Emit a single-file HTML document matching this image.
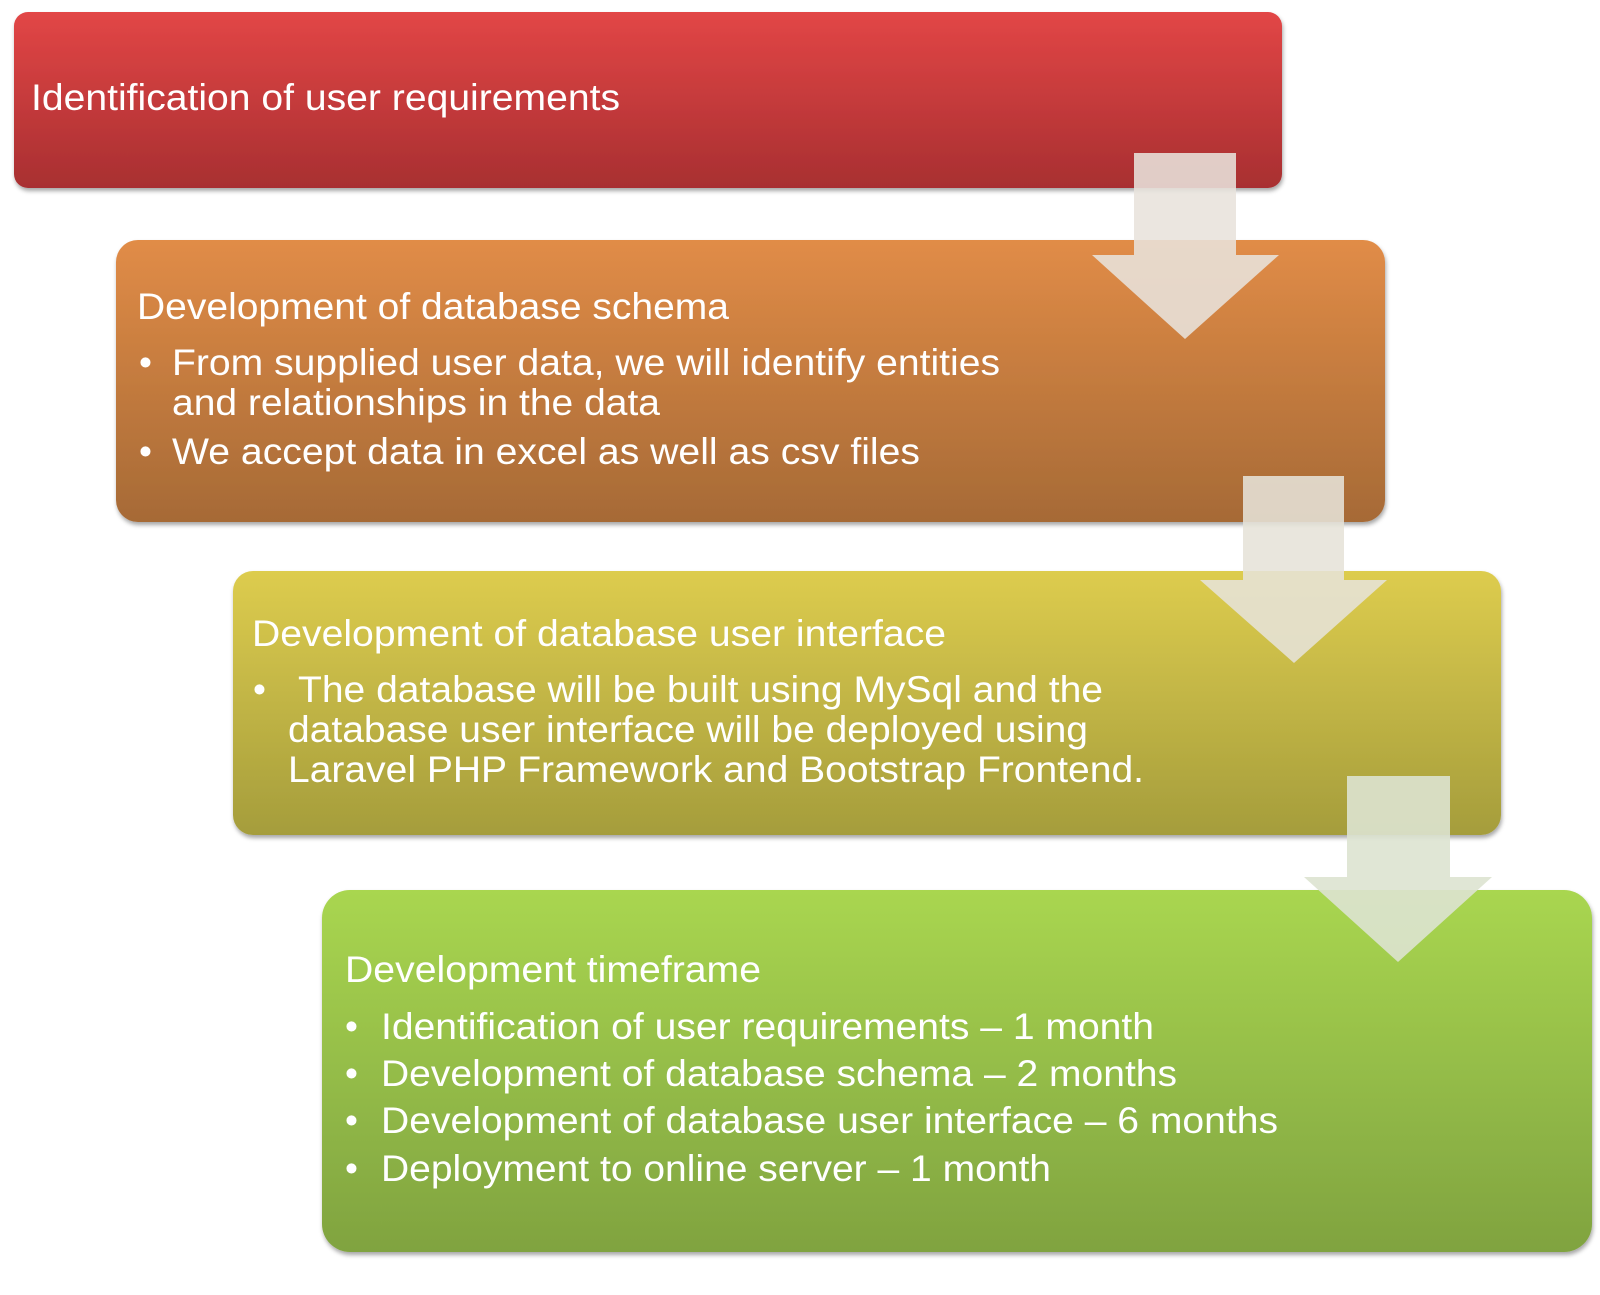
<!DOCTYPE html>
<html><head><meta charset="utf-8"><style>
html,body{margin:0;padding:0;background:#fff;}
svg text{font-family:"Liberation Sans",Arial,sans-serif;fill:#fff;font-size:37px;}
</style></head><body>
<svg width="1600" height="1290" viewBox="0 0 1600 1290" xmlns="http://www.w3.org/2000/svg">
<defs>
<linearGradient id="r" x1="0" y1="0" x2="0" y2="1"><stop offset="0" stop-color="#e24646"/><stop offset="1" stop-color="#a82f31"/></linearGradient>
<linearGradient id="o" x1="0" y1="0" x2="0" y2="1"><stop offset="0" stop-color="#e18c47"/><stop offset="1" stop-color="#a66a36"/></linearGradient>
<linearGradient id="y" x1="0" y1="0" x2="0" y2="1"><stop offset="0" stop-color="#ddcc4e"/><stop offset="1" stop-color="#a59d3c"/></linearGradient>
<linearGradient id="g" x1="0" y1="0" x2="0" y2="1"><stop offset="0" stop-color="#a9d650"/><stop offset="1" stop-color="#80a340"/></linearGradient>
<filter id="sh" x="-5%" y="-5%" width="110%" height="115%"><feDropShadow dx="1" dy="3" stdDeviation="2" flood-color="#000" flood-opacity="0.35"/></filter>
</defs>
<rect x="14" y="12" width="1268" height="176" rx="14" fill="url(#r)" filter="url(#sh)"/>
<rect x="116" y="240" width="1269" height="282" rx="22" fill="url(#o)" filter="url(#sh)"/>
<rect x="233" y="571" width="1268" height="264" rx="20" fill="url(#y)" filter="url(#sh)"/>
<rect x="322" y="890" width="1270" height="362" rx="28" fill="url(#g)" filter="url(#sh)"/>

<polygon points="1134,153 1236,153 1236,255 1279,255 1185,339 1092,255 1134,255" fill="#e8e2dc" fill-opacity="0.88"/>
<polygon points="1243,476 1344,476 1344,580 1387,580 1294,663 1200,580 1243,580" fill="#e6e2d8" fill-opacity="0.88"/>
<polygon points="1347,776 1450,776 1450,877 1492,877 1398,962 1304,877 1347,877" fill="#dde3d0" fill-opacity="0.9"/>

<text x="31" y="110" textLength="589" lengthAdjust="spacingAndGlyphs">Identification of user requirements</text>

<text x="137" y="319" textLength="592" lengthAdjust="spacingAndGlyphs">Development of database schema</text>
<text x="139" y="375">•</text><text x="172" y="375" textLength="828" lengthAdjust="spacingAndGlyphs">From supplied user data, we will identify entities</text>
<text x="172" y="415" textLength="488" lengthAdjust="spacingAndGlyphs">and relationships in the data</text>
<text x="139" y="464">•</text><text x="172" y="464" textLength="748" lengthAdjust="spacingAndGlyphs">We accept data in excel as well as csv files</text>

<text x="252" y="646" textLength="694" lengthAdjust="spacingAndGlyphs">Development of database user interface</text>
<text x="253" y="702">•</text><text x="298" y="702" textLength="805" lengthAdjust="spacingAndGlyphs">The database will be built using MySql and the</text>
<text x="288" y="742" textLength="800" lengthAdjust="spacingAndGlyphs">database user interface will be deployed using</text>
<text x="288" y="782" textLength="856" lengthAdjust="spacingAndGlyphs">Laravel PHP Framework and Bootstrap Frontend.</text>

<text x="345" y="982" textLength="416" lengthAdjust="spacingAndGlyphs">Development timeframe</text>
<text x="345" y="1039">•</text><text x="381" y="1039" textLength="773" lengthAdjust="spacingAndGlyphs">Identification of user requirements – 1 month</text>
<text x="345" y="1086">•</text><text x="381" y="1086" textLength="796" lengthAdjust="spacingAndGlyphs">Development of database schema – 2 months</text>
<text x="345" y="1133">•</text><text x="381" y="1133" textLength="897" lengthAdjust="spacingAndGlyphs">Development of database user interface – 6 months</text>
<text x="345" y="1181">•</text><text x="381" y="1181" textLength="670" lengthAdjust="spacingAndGlyphs">Deployment to online server – 1 month</text>
</svg>
</body></html>
